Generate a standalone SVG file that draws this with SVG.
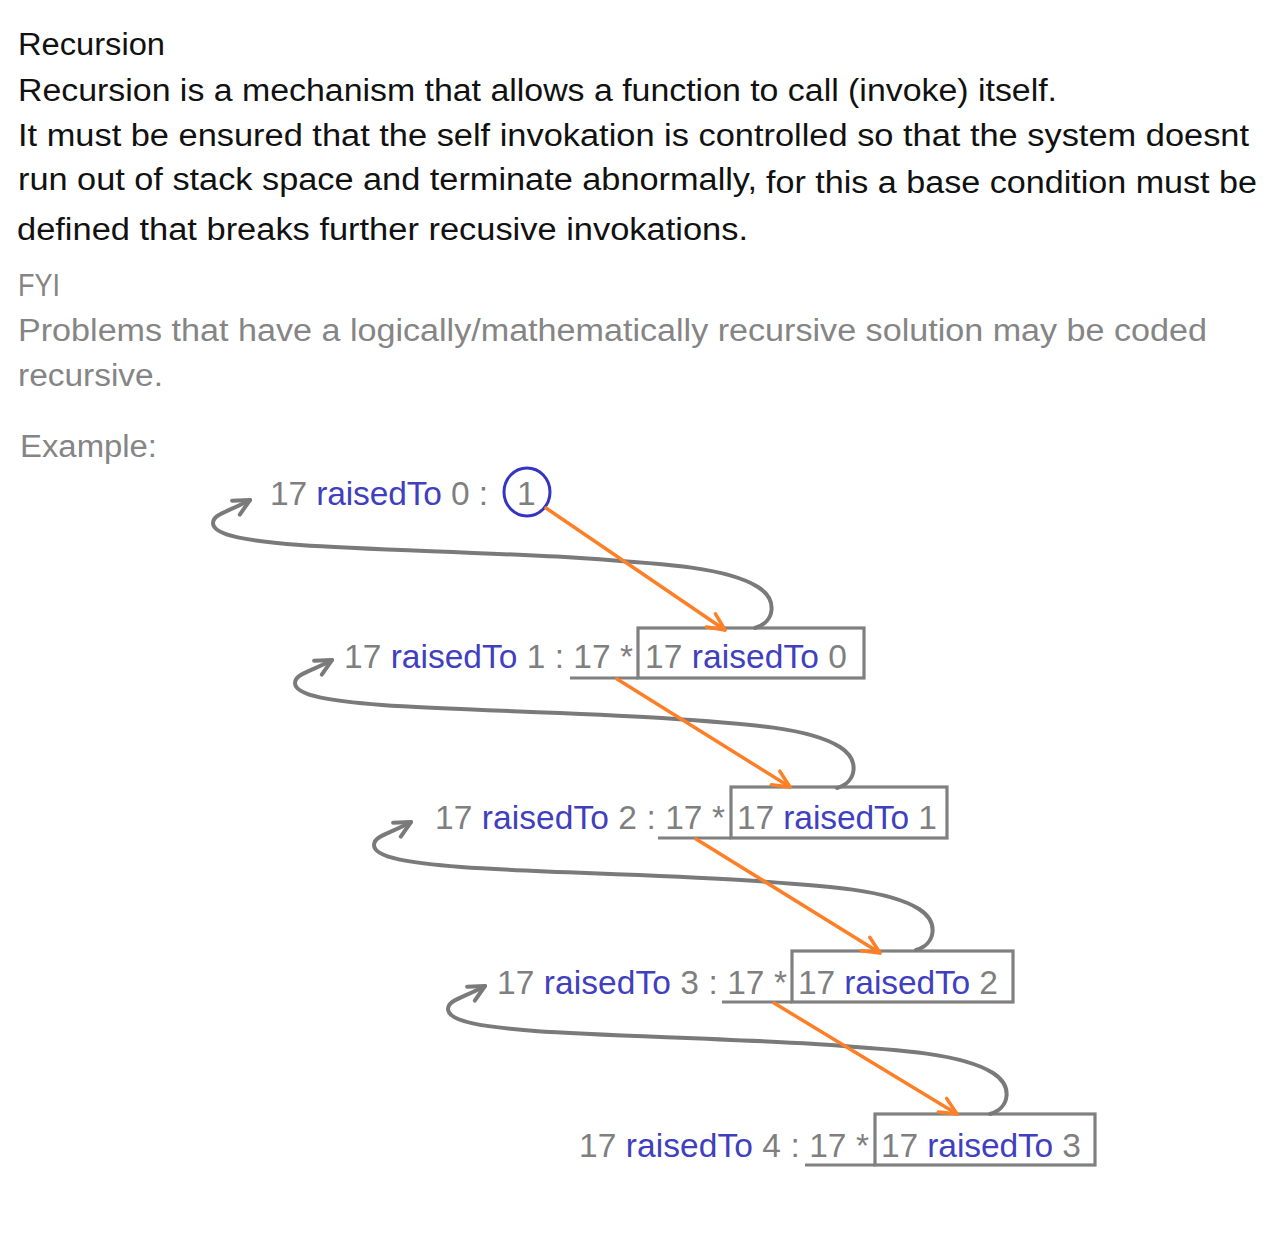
<svg xmlns="http://www.w3.org/2000/svg" width="1280" height="1257" viewBox="0 0 1280 1257">
<style>
.h{font-family:"Liberation Sans",Arial,sans-serif;font-size:31px;fill:#111}
.g{font-family:"Liberation Sans",Arial,sans-serif;font-size:31px;fill:#858585}
.d{font-family:"Liberation Sans",Arial,sans-serif;font-size:33.5px;fill:#7f7f7f}
.b{fill:#3f3fbf}
.box{fill:none;stroke:#808080;stroke-width:3.2}
.loop{fill:none;stroke:#7a7a7a;stroke-width:4;stroke-linecap:round}
.call{fill:none;stroke:#ff7f27;stroke-width:3.5;stroke-linecap:round}
</style>
<defs>
<marker id="ao" markerUnits="userSpaceOnUse" viewBox="-20 -12 24 24" refX="0" refY="0" markerWidth="24" markerHeight="24" orient="auto">
<path d="M-17,-8 L0,0 L-17,8" fill="none" stroke="#ff7f27" stroke-width="3.5" stroke-linecap="round" stroke-linejoin="round"/>
</marker>
<marker id="ag" markerUnits="userSpaceOnUse" viewBox="-20 -12 24 24" refX="0" refY="0" markerWidth="24" markerHeight="24" orient="auto">
<path d="M-16,-8 L0,0 L-16,8" fill="none" stroke="#7a7a7a" stroke-width="4" stroke-linecap="round" stroke-linejoin="round"/>
</marker>
<path id="loopShape" d="M505,128 C525,122 528,100 508,87 C478,68 420,64 330,58 C230,52 120,50 50,45 C0,41 -37,36 -37,23 C-37,14 -22,12 0,0"/>
</defs>
<rect width="1280" height="1257" fill="#fff"/>

<g id="intro">
<text class="h" x="18" y="55" textLength="147" lengthAdjust="spacingAndGlyphs">Recursion</text>
<text class="h" x="18" y="101" textLength="1039" lengthAdjust="spacingAndGlyphs">Recursion is a mechanism that allows a function to call (invoke) itself.</text>
<text class="h" x="18" y="146" textLength="1231" lengthAdjust="spacingAndGlyphs">It must be ensured that the self invokation is controlled so that the system doesnt</text>
<text class="h" x="18" y="190" textLength="739" lengthAdjust="spacingAndGlyphs">run out of stack space and terminate abnormally,</text>
<text class="h" x="766" y="193" textLength="491" lengthAdjust="spacingAndGlyphs">for this a base condition must be</text>
<text class="h" x="17" y="240" textLength="731" lengthAdjust="spacingAndGlyphs">defined that breaks further recusive invokations.</text>
</g>
<g id="fyi">
<text class="g" x="18" y="296" textLength="42" lengthAdjust="spacingAndGlyphs">FYI</text>
<text class="g" x="18" y="341" textLength="1189" lengthAdjust="spacingAndGlyphs">Problems that have a logically/mathematically recursive solution may be coded</text>
<text class="g" x="18" y="386" textLength="145" lengthAdjust="spacingAndGlyphs">recursive.</text>
<text class="g" x="20" y="457" textLength="137" lengthAdjust="spacingAndGlyphs">Example:</text>
</g>

<g id="row0">
<text class="d" x="270" y="505" textLength="218">17 <tspan class="b">raisedTo</tspan> 0 :</text>
<text class="d" x="517" y="505">1</text>
<ellipse cx="527" cy="492" rx="23" ry="24" fill="none" stroke="#3535c5" stroke-width="3"/>
</g>
<g id="row1">
<text class="d" x="344" y="668" textLength="289">17 <tspan class="b">raisedTo</tspan> 1 : 17 *</text>
<rect class="box" x="638" y="628" width="226" height="50"/>
<line class="box" x1="570" y1="678" x2="638" y2="678"/>
<text class="d" x="645" y="668" textLength="202">17 <tspan class="b">raisedTo</tspan> 0</text>
</g>
<g id="row2">
<text class="d" x="435" y="829" textLength="290">17 <tspan class="b">raisedTo</tspan> 2 : 17 *</text>
<rect class="box" x="731" y="787" width="216" height="51"/>
<line class="box" x1="658" y1="838" x2="731" y2="838"/>
<text class="d" x="737" y="829" textLength="200">17 <tspan class="b">raisedTo</tspan> 1</text>
</g>
<g id="row3">
<text class="d" x="497" y="994" textLength="290">17 <tspan class="b">raisedTo</tspan> 3 : 17 *</text>
<rect class="box" x="792" y="951" width="221" height="51"/>
<line class="box" x1="722" y1="1002" x2="792" y2="1002"/>
<text class="d" x="798" y="994" textLength="200">17 <tspan class="b">raisedTo</tspan> 2</text>
</g>
<g id="row4">
<text class="d" x="579" y="1157" textLength="290">17 <tspan class="b">raisedTo</tspan> 4 : 17 *</text>
<rect class="box" x="875" y="1114" width="220" height="51"/>
<line class="box" x1="805" y1="1165" x2="875" y2="1165"/>
<text class="d" x="881" y="1157" textLength="200">17 <tspan class="b">raisedTo</tspan> 3</text>
</g>

<g id="connectors">
<use href="#loopShape" class="loop" marker-end="url(#ag)" transform="translate(250,500)"/>
<use href="#loopShape" class="loop" marker-end="url(#ag)" transform="translate(332,660)"/>
<use href="#loopShape" class="loop" marker-end="url(#ag)" transform="translate(411,822)"/>
<use href="#loopShape" class="loop" marker-end="url(#ag)" transform="translate(485,986)"/>
<line class="call" x1="546" y1="508" x2="725" y2="630" marker-end="url(#ao)"/>
<line class="call" x1="617" y1="679" x2="790" y2="787" marker-end="url(#ao)"/>
<line class="call" x1="696" y1="839" x2="880" y2="953" marker-end="url(#ao)"/>
<line class="call" x1="774" y1="1003" x2="957" y2="1114" marker-end="url(#ao)"/>
</g>
</svg>
